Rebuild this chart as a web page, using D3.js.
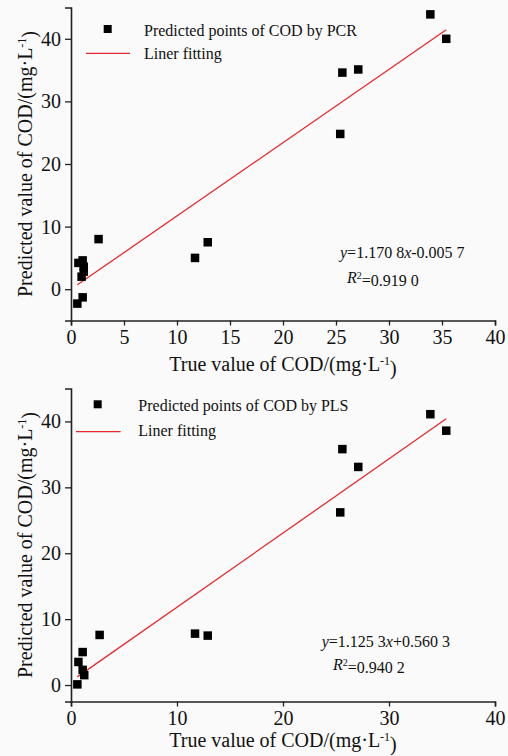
<!DOCTYPE html>
<html>
<head>
<meta charset="utf-8">
<script src="https://cdn.jsdelivr.net/npm/d3@7"></script>
<style>
  body { margin: 0; background: #fafafa; }
  svg { display: block; }
  svg text { font-family: "Liberation Serif", "Times New Roman", serif; }
</style>
</head>
<body>
<div id="chart-area"></div>
<script>
// PCR panel (top)
var pcrTrue = [33.9, 35.4, 25.6, 27.1, 25.4, 2.6, 11.7, 12.9, 0.7, 1.1, 1.2, 1.2, 1.0, 0.6, 1.1];
var pcrPred = [43.9, 40.0, 34.6, 35.1, 24.8, 8.0, 5.0, 7.5, 4.2, 4.6, 3.6, 2.8, 2.0, -2.3, -1.3];
var pcrFit = { slope: 1.1708, intercept: -0.0057 };
var pcrXTicks = [0, 5, 10, 15, 20, 25, 30, 35, 40];
var pcrYTicks = [0, 10, 20, 30, 40];

// PLS panel (bottom)
var plsTrue = [33.9, 35.4, 25.6, 27.1, 25.4, 2.7, 11.7, 12.9, 1.1, 0.7, 1.1, 1.25, 0.6];
var plsPred = [41.1, 38.6, 35.8, 33.1, 26.2, 7.6, 7.8, 7.5, 5.0, 3.5, 2.3, 1.5, 0.1];
var plsFit = { slope: 1.1253, intercept: 0.5603 };
var plsXTicks = [0, 10, 20, 30, 40];
var plsYTicks = [0, 10, 20, 30, 40];

var svg = d3.select("#chart-area")
    .append("svg")
    .attr("width", 508)
    .attr("height", 756);

function drawPanel(opt) {
    var x = d3.scaleLinear().domain([0, 40]).range([71, 495]);
    var y = d3.scaleLinear().domain(opt.yDomain).range(opt.yRange);
    var g = svg.append("g");

    // axes
    var xAxis = g.append("g")
        .attr("transform", "translate(0," + opt.yRange[0] + ")")
        .call(d3.axisBottom(x).tickValues(opt.xTicks).tickSizeOuter(0).tickSize(5).tickPadding(4));
    var yAxis = g.append("g")
        .attr("transform", "translate(71,0)")
        .call(d3.axisLeft(y).tickValues(opt.yTicks).tickSizeOuter(0).tickSize(6).tickPadding(4));
    [xAxis, yAxis].forEach(function (a) {
        a.attr("font-family", null).attr("font-size", null);
        a.select(".domain").attr("stroke", "#222").attr("stroke-width", 1.6);
        a.selectAll(".tick line").attr("stroke", "#222").attr("stroke-width", 1.3);
        a.selectAll(".tick text").attr("fill", "#111").style("font-size", "20px");
    });

    // fit line
    var xs = d3.extent(opt.xs);
    g.append("line")
        .attr("x1", x(xs[0]))
        .attr("y1", y(opt.fit.slope * xs[0] + opt.fit.intercept))
        .attr("x2", x(xs[1]))
        .attr("y2", y(opt.fit.slope * xs[1] + opt.fit.intercept))
        .attr("stroke", "#e8282b")
        .attr("stroke-width", 1.3);

    // points
    var s = 8.5;
    g.selectAll("rect.pt")
        .data(opt.xs.map(function (d, i) { return [d, opt.ys[i]]; }))
        .enter()
        .append("rect")
        .attr("class", "pt")
        .attr("x", function (d) { return x(d[0]) - s / 2; })
        .attr("y", function (d) { return y(d[1]) - s / 2; })
        .attr("width", s)
        .attr("height", s)
        .attr("fill", "#000");

    // legend
    var L = opt.legend;
    g.append("rect")
        .attr("x", L.sq[0] - 4).attr("y", L.sq[1] - 4)
        .attr("width", 8).attr("height", 8).attr("fill", "#000");
    g.append("text").attr("x", L.tx).attr("y", L.ty1)
        .style("font-size", "16px").attr("fill", "#111").text(L.label);
    g.append("line")
        .attr("x1", L.line[0]).attr("x2", L.line[1])
        .attr("y1", L.line[2]).attr("y2", L.line[2])
        .attr("stroke", "#e8282b").attr("stroke-width", 1.3);
    g.append("text").attr("x", L.tx).attr("y", L.ty2)
        .style("font-size", "16px").attr("fill", "#111").text("Liner fitting");

    // equation
    var eq = g.append("text").attr("x", opt.eq[0]).attr("y", opt.eq[1])
        .style("font-size", "16px").attr("fill", "#111");
    eq.append("tspan").style("font-style", "italic").text("y");
    eq.append("tspan").text(opt.eqText[0]);
    eq.append("tspan").style("font-style", "italic").text("x");
    eq.append("tspan").text(opt.eqText[1]);
    var r2 = g.append("text").attr("x", opt.r2[0]).attr("y", opt.r2[1])
        .style("font-size", "16px").attr("fill", "#111");
    r2.append("tspan").style("font-style", "italic").text("R");
    r2.append("tspan").attr("dy", "-0.45em").style("font-size", "10px").text("2");
    r2.append("tspan").attr("dy", "0.45em").text("=" + opt.r2Text);

    // axis titles
    var xt = g.append("text")
        .attr("x", 283).attr("y", opt.xTitleY)
        .attr("text-anchor", "middle")
        .style("font-size", "20px").attr("fill", "#111");
    xt.append("tspan").text("True value of COD/(mg·L");
    xt.append("tspan").attr("dy", "-0.5em").style("font-size", "12px").text("-1");
    xt.append("tspan").attr("dy", "0.5em").text(")");

    var yMid = (opt.yRange[0] + opt.yRange[1]) / 2;
    var yt = g.append("text")
        .attr("transform", "translate(32," + yMid + ") rotate(-90)")
        .attr("text-anchor", "middle")
        .style("font-size", "20px").attr("fill", "#111");
    yt.append("tspan").text("Predicted value of COD/(mg·L");
    yt.append("tspan").attr("dy", "-0.5em").style("font-size", "12px").text("-1");
    yt.append("tspan").attr("dy", "0.5em").text(")");
}

drawPanel({
    xs: pcrTrue, ys: pcrPred, fit: pcrFit,
    xTicks: pcrXTicks, yTicks: pcrYTicks,
    yDomain: [-5, 45], yRange: [320.5, 7.5],
    legend: { sq: [107.7, 29], tx: 144, ty1: 36, ty2: 59, line: [86, 130, 53.3], label: "Predicted points of COD by PCR" },
    eq: [340, 258], eqText: ["=1.170 8", "-0.005 7"],
    r2: [347, 283], r2Text: "0.919 0",
    xTitleY: 371
});

drawPanel({
    xs: plsTrue, ys: plsPred, fit: plsFit,
    xTicks: plsXTicks, yTicks: plsYTicks,
    yDomain: [-2.5, 45], yRange: [701.5, 388.5],
    legend: { sq: [97.7, 404.3], tx: 138.3, ty1: 411, ty2: 436, line: [76, 120.7, 431.7], label: "Predicted points of COD by PLS" },
    eq: [321.7, 647], eqText: ["=1.125 3", "+0.560 3"],
    r2: [333, 670], r2Text: "0.940 2",
    xTitleY: 747
});
</script>
</body>
</html>
